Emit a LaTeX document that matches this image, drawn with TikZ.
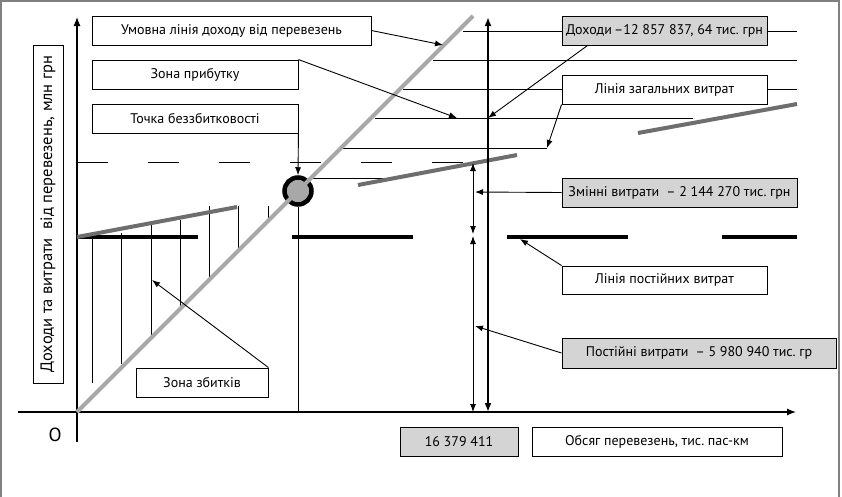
\documentclass[tikz,border=0pt]{standalone}
\usepackage{fontspec}
\setmainfont{PT Sans}
\usetikzlibrary{arrows.meta}
\frenchspacing

\definecolor{revgray}{HTML}{A8A8A8}
\definecolor{costgray}{HTML}{6E6E6E}
\definecolor{boxgray}{HTML}{D4D4D4}

\begin{document}
\begin{tikzpicture}[x=1pt,y=-1pt,
    box/.style={draw=black, line width=0.9pt, fill=white, inner sep=1pt, font=\fontsize{14}{16}\selectfont},
    graybox/.style={box, fill=boxgray},
    thinline/.style={line width=0.9pt},
    pointer/.style={line width=0.9pt, -{Latex[length=8pt,width=6pt]}},
    dimarrow/.style={line width=0.9pt, {Latex[length=8pt,width=6pt]}-{Latex[length=8pt,width=6pt]}}]
		\useasboundingbox (0,0) rectangle (842,496);
		\draw[gray, line width=1.5pt] (1,520) -- (1,1) -- (839,1) -- (839,520);

		% axes
		\coordinate (O) at (77,412);
		\draw[line width=1.2pt, -{Latex[length=9pt,width=7pt]}] (18,412) -- (796,412);
		\draw[line width=1.2pt, -{Latex[length=9pt,width=7pt]}] (77,442) -- (77,17);
		\node (orig) at (55,435) {\fontsize{19}{20}\selectfont О};

		% level of breakeven revenue
		\draw[thinline, dash pattern=on 31pt off 40pt] (77,162) -- (463,162);

		% loss zone hatching
		\foreach \x/\a/\b in {92/235/383, 121/233/364, 151/224/336, 180/220/308, 209/206/279, 238/206/250, 268/206/220}
			\draw[thinline] (\x,\a) -- (\x,\b);

		% thin levels
		\draw[thinline] (463,31) -- (797,31);
		\draw[thinline] (433,60) -- (797,60);
		\draw[thinline] (403,89) -- (797,89);
		\draw[thinline] (375,118) -- (693,118);
		\draw[thinline] (343,148) -- (547,148);
		\draw[thinline] (313,178) -- (395,178);

		% breakeven point
		\node (bep) [circle, draw=black, line width=4.5pt, fill=revgray, minimum size=27pt, inner sep=0pt] at (298,191) {};
		\draw[thinline] (bep.south) -- (298,412);

		% fixed costs
		\draw[line width=3.5pt, dash pattern=on 121pt off 94pt] (77,237) -- (797,237);

		% total costs
		\draw[costgray, line width=4pt] (77,237) -- (237,207);
		\draw[costgray, line width=4pt] (358,185) -- (517,155);
		\draw[costgray, line width=4pt] (638,133) -- (797,104);

		% revenue
		\draw[revgray, line width=4pt] (O) -- (473,16);

		% volume at breakeven
		\draw[line width=2.2pt, {Latex[length=9pt,width=7pt]}-{Latex[length=9pt,width=7pt]}] (488,412) -- (488,17);
		\draw[dimarrow] (473,163) -- (473,234);
		\draw[dimarrow] (473,236) -- (473,412);

		% labels
		\node (ylab) [box, rotate=90, minimum width=338pt, minimum height=30pt, font=\fontsize{16.5}{18}\selectfont] at (48,214) {Доходи та витрати\ \ від перевезень, млн грн\hspace{10pt}};
		\node (umovna) [box, minimum width=279pt, minimum height=29pt] at (231.5,30.5) {Умовна лінія доходу від перевезень};
		\node (prybutok) [box, minimum width=206pt, minimum height=29pt] at (195,74.5) {Зона прибутку};
		\node (tochka) [box, minimum width=206pt, minimum height=29pt] at (195,118.5) {Точка беззбитковості};
		\node (dokhody) [graybox, minimum width=205pt, minimum height=29pt] at (664.5,30.5) {Доходи\,–12 857 837, 64 тис. грн};
		\node (zahalni) [box, minimum width=205pt, minimum height=29pt] at (664.5,89.5) {Лінія загальних витрат};
		\node (zminni) [graybox, minimum width=235pt, minimum height=29pt] at (679.5,192.5) {Змінні витрати\enspace– 2 144 270 тис. грн};
		\node (liniyapost) [box, minimum width=205pt, minimum height=28pt] at (664.5,280) {Лінія постійних витрат};
		\node (postiyni) [graybox, minimum width=274pt, minimum height=30pt] at (699,353) {Постійні витрати\enspace– 5 980 940 тис. гр};
		\node (zbytky) [box, minimum width=132pt, minimum height=29pt] at (202,382.5) {Зона збитків};
		\node (obsyagnum) [graybox, minimum width=118pt, minimum height=29pt] at (459,441.5) {16 379 411};
		\node (obsyag) [box, minimum width=250pt, minimum height=29pt] at (657,441.5) {Обсяг перевезень, тис. пас-км};

		% pointers
		\coordinate (revpt) at (443,45);
		\coordinate (profitpt) at (457,118);
		\coordinate (incomept) at (488,118);
		\coordinate (totalpt) at (547,148);
		\coordinate (varpt) at (475,192);
		\coordinate (fixlinept) at (520,239);
		\coordinate (fixpt) at (475,326);
		\coordinate (losspt) at (152,280);
		\draw[pointer] (umovna.east) -- (revpt);
		\draw[pointer] (prybutok.north east) -- (profitpt);
		\draw[pointer] (tochka.south east) -- (bep.north);
		\draw[pointer] (dokhody.191) -- (incomept);
		\draw[pointer] (zahalni.south west) -- (totalpt);
		\draw[pointer] (zminni.west) -- (varpt);
		\draw[pointer] (liniyapost.north west) -- (fixlinept);
		\draw[pointer] (postiyni.west) -- (fixpt);
		\draw[pointer] (zbytky.north east) -- (losspt);

	\end{tikzpicture}
\end{document}
